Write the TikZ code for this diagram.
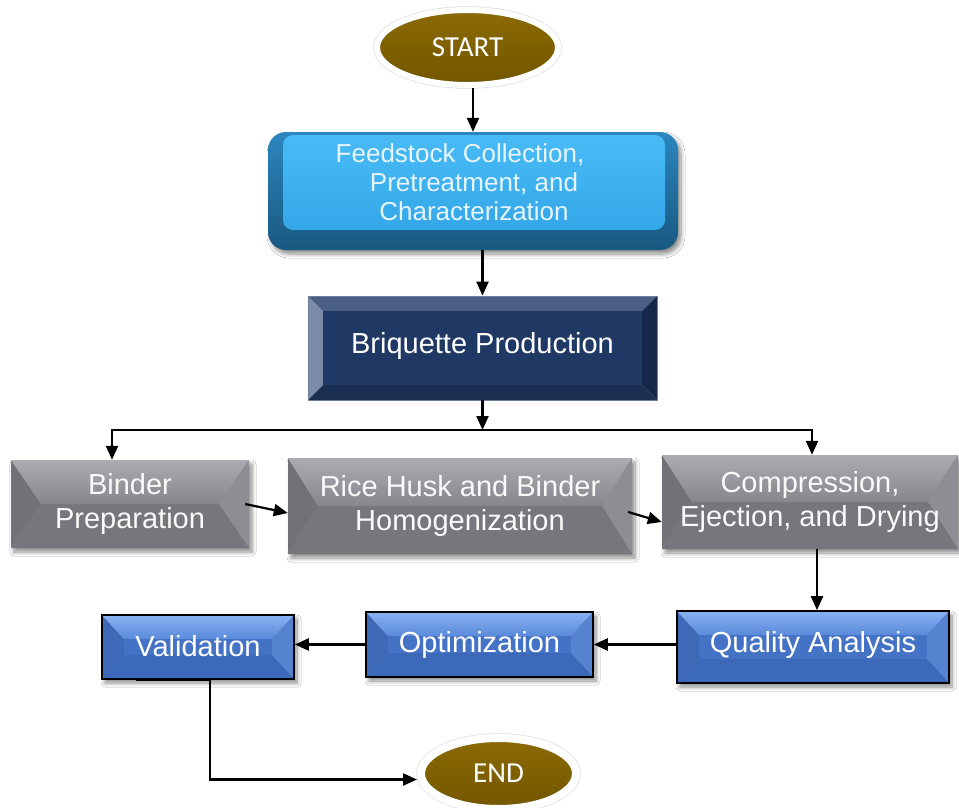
\documentclass[tikz,border=0pt]{standalone}
\usepackage{fontspec}
\setmainfont{Liberation Sans}
\newfontfamily\calib{Carlito}
\usetikzlibrary{arrows.meta,shapes.geometric,shadows,shadows.blur,calc}
\definecolor{brn}{HTML}{7F6000}
\definecolor{brnL}{HTML}{8C6B06}
\definecolor{brnD}{HTML}{735600}
\definecolor{feedT}{HTML}{48BBF6}
\definecolor{feedB}{HTML}{34A7E9}
\definecolor{baseT}{HTML}{2C86BF}
\definecolor{baseB}{HTML}{185880}
\definecolor{feedtxt}{HTML}{E8F4FC}
\definecolor{nvL}{HTML}{7C8CA8}
\definecolor{nvT}{HTML}{4B5F84}
\definecolor{nvR}{HTML}{15284A}
\definecolor{nvB}{HTML}{1A2E52}
\definecolor{nvF}{HTML}{203864}
\definecolor{nvE}{HTML}{6F7FA0}
\definecolor{gyL}{HTML}{717177}
\definecolor{gyT1}{HTML}{ABABB1}
\definecolor{gyT2}{HTML}{86868C}
\definecolor{gyR}{HTML}{8D8D93}
\definecolor{gyB}{HTML}{76767C}
\definecolor{gyF}{HTML}{828288}
\definecolor{blL}{HTML}{3E69B6}
\definecolor{blT1}{HTML}{88B2F3}
\definecolor{blT2}{HTML}{5A8ADA}
\definecolor{blR}{HTML}{5683D0}
\definecolor{blB}{HTML}{3C69BA}
\definecolor{blF}{HTML}{4472C4}
\tikzset{
  bevel/.style n args={7}{path picture={
    \coordinate (pp-sw) at (path picture bounding box.south west);
    \coordinate (pp-ne) at (path picture bounding box.north east);
    \coordinate (pp-nw) at (pp-sw |- pp-ne);
    \coordinate (pp-se) at (pp-ne |- pp-sw);
    \coordinate (pp-isw) at ($(pp-sw)+(#1pt,#2pt)$);
    \coordinate (pp-ine) at ($(pp-ne)+(-#1pt,-#2pt)$);
    \coordinate (pp-inw) at (pp-isw |- pp-ine);
    \coordinate (pp-ise) at (pp-ine |- pp-isw);
    \path[#3] (pp-sw) -- (pp-nw) -- (pp-inw) -- (pp-isw) -- cycle;
    \path[#4] (pp-nw) -- (pp-ne) -- (pp-ine) -- (pp-inw) -- cycle;
    \path[#5] (pp-ne) -- (pp-se) -- (pp-ise) -- (pp-ine) -- cycle;
    \path[#6] (pp-se) -- (pp-sw) -- (pp-isw) -- (pp-ise) -- cycle;
    \path[#7] (pp-isw) rectangle (pp-ine);
  }},
  softshadow/.style={blur shadow={shadow xshift=3pt,shadow yshift=-4pt,shadow blur radius=4pt,shadow blur steps=8,shadow opacity=45}},
  termin/.style={ellipse, inner sep=0pt, fill=brn, top color=brnL, bottom color=brnD, middle color=brn,
     draw=white, line width=#1, preaction={draw=black!12, line width=#1+1.5pt},
     text=white, font=\calib\fontsize{29}{32}\selectfont},
  gbox/.style={rectangle, inner sep=0pt, align=center, text=white!96!gray, softshadow,
     font=\fontsize{29}{34}\selectfont,
     bevel={30}{#1}{fill=gyL}{top color=gyT1,bottom color=gyT2}{fill=gyR}{fill=gyB}{fill=gyF}},
  bbox/.style={rectangle, inner sep=0pt, align=center, text=white, softshadow, draw=black, line width=1.6pt,
     font=\fontsize{29}{34}\selectfont,
     bevel={22}{24}{fill=blL}{top color=blT1,bottom color=blT2}{fill=blR}{fill=blB}{fill=blF}},
  nbox/.style={rectangle, inner sep=0pt, align=center, text=white, draw=nvE, line width=0.8pt,
     font=\fontsize{29}{34}\selectfont,
     bevel={15}{15}{fill=nvL}{fill=nvT}{fill=nvR}{fill=nvB}{fill=nvF}},
  arr/.style={line width=2.2pt, -{Triangle[length=14pt,width=12pt]}}
}
\begin{document}
\begin{tikzpicture}[x=1pt,y=-1pt]
\useasboundingbox[fill=white] (0,0) rectangle (959,807);
% terminals
\node[termin=6pt, minimum width=181pt, minimum height=75pt] (start) at (467.5,47.5) {START};
\node[termin=8pt, minimum width=155pt, minimum height=71pt] (end) at (498.5,773.5) {END};
% feedstock box
\node[rectangle, rounded corners=18pt, minimum width=410pt, minimum height=118pt, inner sep=0pt,
      top color=baseT, bottom color=baseB, softshadow] (feedbase) at (473,191) {};
\node[rectangle, rounded corners=10pt, minimum width=382pt, minimum height=95pt, inner sep=0pt,
      top color=feedT, bottom color=feedB, align=center, text=feedtxt,
      font=\fontsize{26}{29}\selectfont] (feed) at (474,182.5)
      {Feedstock Collection,\hspace*{28pt}\\Pretreatment, and\\Characterization};
% briquette
\node[nbox, minimum width=349pt, minimum height=104pt] (brig) at (482.5,348) {\raisebox{11pt}{Briquette Production}};
% gray row
\node[gbox=44, minimum width=238pt, minimum height=88pt] (bind) at (130,504) {Binder\\Preparation};
\node[gbox=48, minimum width=344pt, minimum height=96pt] (rice) at (460,506) {Rice Husk and Binder\\Homogenization};
\node[gbox=47, minimum width=296pt, minimum height=94pt] (comp) at (810,502) {Compression,\\Ejection, and Drying};
% blue row
\node[bbox, minimum width=272pt, minimum height=72pt] (qual) at (813,647) {\raisebox{10pt}{Quality Analysis}};
\node[bbox, minimum width=227pt, minimum height=65pt] (opt) at (479.5,644.5) {\raisebox{5pt}{Optimization}};
\node[bbox, minimum width=192pt, minimum height=64pt] (valid) at (198,647) {\raisebox{3pt}{Validation}};
% connectors
\coordinate (split) at (485,430);
\draw[arr] (feedbase.north |- start.south) -- (feedbase.north);
\draw[arr] (brig.north |- feedbase.south) -- (brig.north);
\draw[arr] (brig.south) -- (brig.south |- split);
\draw[arr] (split) -| ([xshift=-18pt]bind.north);
\draw[arr] (split) -| ([xshift=2pt]comp.north);
\draw[arr] ([xshift=-4pt]bind.east) -- ([yshift=-7pt]rice.west);
\draw[arr] ([xshift=-4pt,yshift=-6pt]rice.east) -- ([yshift=-20pt]comp.west);
\draw[arr] ([xshift=4pt]qual.north |- comp.south) -- ([xshift=4pt]qual.north);
\draw[arr] (qual.west |- opt.east) -- (opt.east);
\draw[arr] (opt.west) -- (opt.west -| valid.east);
\draw[arr] ([xshift=-62pt]valid.south) -- ([xshift=12pt]valid.south) |- ([yshift=-6pt]end.west);
\end{tikzpicture}
\end{document}
